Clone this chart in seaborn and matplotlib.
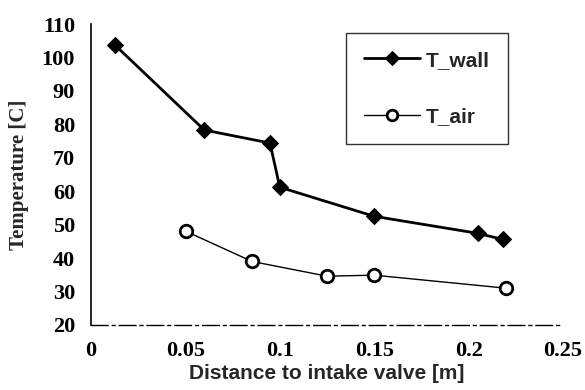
import matplotlib
matplotlib.use("Agg")
import matplotlib.pyplot as plt
import seaborn as sns
import pandas as pd

wall_x = [0.0127, 0.060, 0.0948, 0.100, 0.150, 0.205, 0.218]
wall_y = [103.7, 78.3, 74.4, 61.2, 52.5, 47.4, 45.6]
air_x = [0.0503, 0.0853, 0.125, 0.150, 0.220]
air_y = [48.0, 39.0, 34.6, 34.9, 31.0]
x_ticks = [0, 0.05, 0.1, 0.15, 0.2, 0.25]
x_tick_labels = ["0", "0.05", "0.1", "0.15", "0.2", "0.25"]
y_ticks = [20, 30, 40, 50, 60, 70, 80, 90, 100, 110]

sns.set_theme(style="white")
plt.rcParams['font.family'] = ['Liberation Serif', 'DejaVu Sans']
plt.rcParams['font.weight'] = 'bold'

fig = plt.figure(figsize=(5.85, 3.9), dpi=100)
ax = fig.add_axes([91/585, 1-325/390, (563-91)/585, (325-24)/390])

wall = pd.DataFrame({"x": wall_x, "y": wall_y})
air = pd.DataFrame({"x": air_x, "y": air_y})

sns.lineplot(data=wall, x="x", y="y", ax=ax, color="black", lw=2.0,
             marker="D", markersize=8, markerfacecolor="black",
             markeredgecolor="black", label="T_wall")
sns.lineplot(data=air, x="x", y="y", ax=ax, color="black", lw=1.0,
             marker="o", markersize=9, markerfacecolor="white",
             markeredgecolor="black", markeredgewidth=2.0, label="T_air")

ax.set_xlim(0, 0.25)
ax.set_ylim(20, 110)
ax.set_xticks(x_ticks)
ax.set_xticklabels(x_tick_labels)
ax.set_yticks(y_ticks)
for s in ["top", "right"]:
    ax.spines[s].set_visible(False)
for s in ["left", "bottom"]:
    ax.spines[s].set_color("black")
    ax.spines[s].set_linewidth(1.2)
ax.spines["bottom"].set_linestyle((0, (12, 3, 2, 3)))
ax.spines["bottom"].set_linewidth(1.0)
ax.tick_params(axis="both", direction="inout", length=7, width=1, colors="black",
               labelsize=16, pad=8)

ax.set_xlabel("Distance to intake valve [m]", fontsize=15, fontweight="bold",
              family="Liberation Sans", labelpad=2)
ax.set_ylabel("Temperature [C]", fontsize=15, fontweight="bold",
              family="Liberation Serif", labelpad=9)

leg = ax.legend(loc="upper left", bbox_to_anchor=((346-91)/472, 1-(33-24)/301),
                frameon=True, fancybox=False, edgecolor="black",
                prop={"family": "Liberation Sans", "weight": "bold", "size": 15},
                labelspacing=1.8, borderpad=0.85, handlelength=2.7,
                handletextpad=0.3, borderaxespad=0, markerscale=0.85)
leg.get_frame().set_linewidth(1.0)

fig.savefig("out.png", dpi=100)
